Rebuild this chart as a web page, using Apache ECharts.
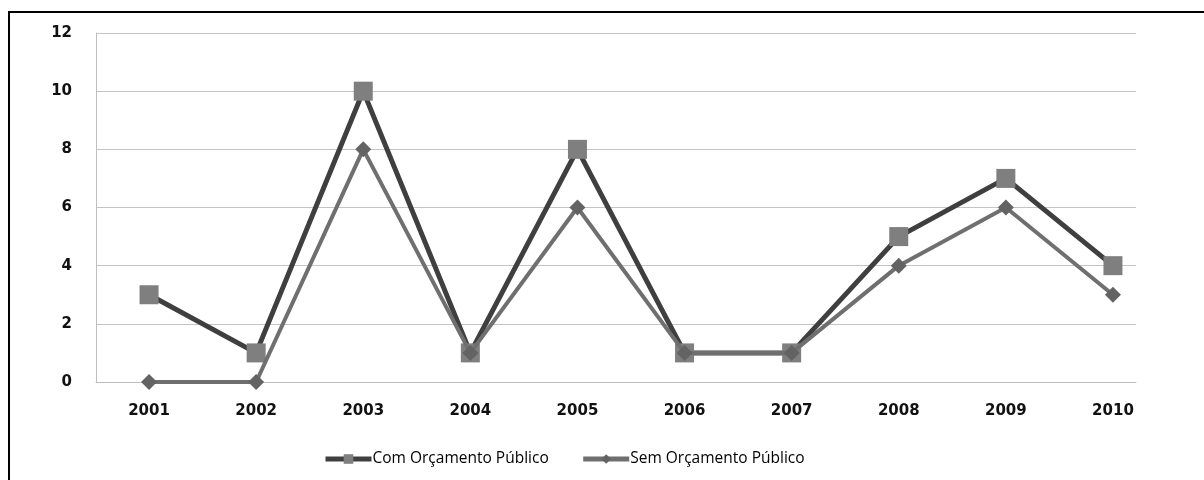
<!DOCTYPE html>
<html><head><meta charset="utf-8">
<script src="https://cdn.jsdelivr.net/npm/echarts@6/dist/echarts.min.js"></script>
<style>html,body{margin:0;padding:0;background:#fff}#c{width:1204px;height:480px}</style>
</head><body><div id="c"></div>
<script>
const categories = ['2001','2002','2003','2004','2005','2006','2007','2008','2009','2010'];
const comOrcamento = [3, 1, 10, 1, 8, 1, 1, 5, 7, 4];
const semOrcamento = [0, 0, 8, 1, 6, 1, 1, 4, 6, 3];
const seriesNames = ['Com Orçamento Público', 'Sem Orçamento Público'];
const yMin = 0, yMax = 12, yStep = 2;

const chart = echarts.init(document.getElementById('c'), null, {renderer: 'canvas'});
const tickFont = {fontFamily: 'DejaVu Sans', fontWeight: 'bold', fontSize: 15, color: '#111'};
chart.setOption({
  animation: false,
  backgroundColor: '#fff',
  graphic: [{
    type: 'rect', shape: {x: 9, y: 12, width: 1220, height: 500},
    style: {fill: 'none', stroke: '#000', lineWidth: 2}, silent: true
  }],
  grid: [
    {left: 96, top: 33, width: 1040, height: 349, outerBoundsMode: 'none', containLabel: false},
    {left: 95.5, top: 33, width: 1071, height: 349, outerBoundsMode: 'none', containLabel: false}
  ],
  xAxis: [
    {gridIndex: 0, type: 'value', min: 0, max: 1, show: true,
     axisLine: {show: true, onZero: false, lineStyle: {color: '#bfbfbf', width: 1}},
     axisTick: {show: false}, axisLabel: {show: false}, splitLine: {show: false}},
    {gridIndex: 1, type: 'category', data: categories, boundaryGap: true,
     axisLine: {show: false}, axisTick: {show: false}, splitLine: {show: false},
     axisLabel: Object.assign({margin: 22, interval: 0}, tickFont)}
  ],
  yAxis: [
    {gridIndex: 0, type: 'value', min: yMin, max: yMax, interval: yStep,
     axisLine: {show: true, lineStyle: {color: '#bfbfbf', width: 1}},
     axisTick: {show: false},
     splitLine: {show: true, lineStyle: {color: '#c4c4c4', width: 1}},
     axisLabel: Object.assign({margin: 24, padding: [2,0,0,0]}, tickFont)},
    {gridIndex: 1, type: 'value', min: yMin, max: yMax, interval: yStep, show: false,
     splitLine: {show: false}}
  ],
  legend: {
    bottom: 8, left: 318, itemGap: 32, itemWidth: 46, itemHeight: 12,
    textStyle: {fontFamily: 'Open Sans', fontSize: 15.5, color: '#000', padding: [0,0,0,-4]},
    data: [
      {name: seriesNames[0], lineStyle: {width: 5, color: '#3f3f3f'}},
      {name: seriesNames[1], lineStyle: {width: 5, color: '#6f6f6f'}}
    ]
  },
  series: [
    {name: seriesNames[0], type: 'line', xAxisIndex: 1, yAxisIndex: 1, data: comOrcamento,
     symbol: 'rect', symbolSize: 19,
     lineStyle: {color: '#3f3f3f', width: 5},
     itemStyle: {color: '#7f7f7f', borderWidth: 0},
     z: 3},
    {name: seriesNames[1], type: 'line', xAxisIndex: 1, yAxisIndex: 1, data: semOrcamento,
     symbol: 'diamond', symbolSize: 16,
     lineStyle: {color: '#6f6f6f', width: 4},
     itemStyle: {color: '#636363', borderWidth: 0},
     z: 4}
  ]
});
</script></body></html>
